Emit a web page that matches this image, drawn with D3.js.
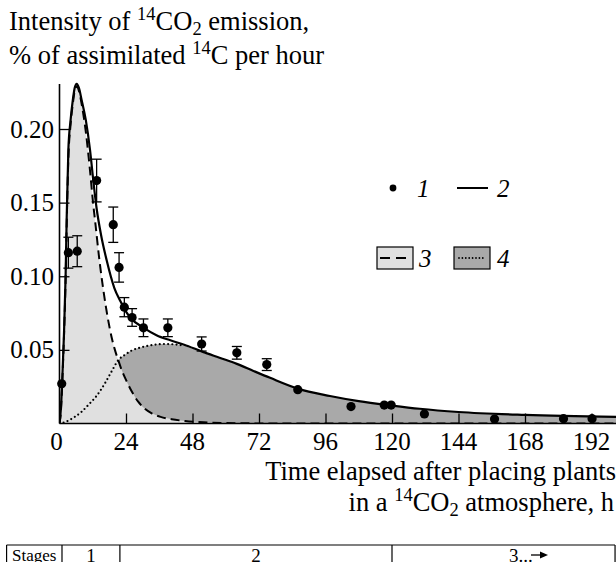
<!DOCTYPE html>
<html><head><meta charset="utf-8">
<script src="https://cdn.jsdelivr.net/npm/d3@7"></script>
<style>body{margin:0;background:#fff;} svg{display:block;}</style>
</head><body>
<svg id="c" width="616" height="562"></svg>
<script>
// ---- data ----
// measured points: [time h, value, error half-width]
const pointTimes  = [0.8, 3.2, 6.4, 13.4, 19.4, 21.5, 23.4, 26.2, 30.3, 39.1, 51.3, 64.0, 74.8, 86.0, 105.2, 117.2, 119.7, 131.7, 157.0, 181.9, 192.2];
const pointValues = [0.027, 0.116, 0.117, 0.165, 0.135, 0.106, 0.079, 0.072, 0.065, 0.065, 0.054, 0.048, 0.040, 0.023, 0.0115, 0.0125, 0.0125, 0.0065, 0.003, 0.0033, 0.0033];
const pointErrors = [0, 0.0105, 0.0105, 0.0145, 0.012, 0.010, 0.0065, 0.006, 0.006, 0.006, 0.0048, 0.0043, 0.004, 0, 0, 0, 0, 0, 0, 0, 0];

// curve 2 (total, solid)
const totalT = [0, 0.5, 1.0, 1.6, 2.2, 2.6, 3.2, 4.0, 4.8, 5.5, 6.2, 7.0, 8.0, 9.5, 11.0, 12.2, 13.4, 15.0, 17.0, 19.8, 22.0, 24.0, 26.0, 30.0, 35.0, 40.0, 45.0, 51.5, 58.0, 64.0, 70.0, 76.0, 86.0, 97.6, 108.0, 120.0, 130.0, 144.0, 168.0, 201.0];
const totalV = [0, 0.010, 0.030, 0.060, 0.100, 0.140, 0.186, 0.206, 0.2196, 0.228, 0.2307, 0.228, 0.2196, 0.206, 0.186, 0.165, 0.146, 0.128, 0.111, 0.092, 0.083, 0.076, 0.071, 0.0655, 0.060, 0.0565, 0.0535, 0.0488, 0.0445, 0.0405, 0.0357, 0.031, 0.0237, 0.0187, 0.0152, 0.0122, 0.0100, 0.0078, 0.0058, 0.0045];

// curve 3 (fast component, dashed, light fill)
const fastT = [0, 0.5, 1.0, 1.6, 2.2, 2.6, 3.2, 4.0, 4.8, 5.5, 6.3, 7.0, 8.0, 9.5, 11.0, 12.0, 13.0, 14.4, 15.8, 17.3, 19.0, 20.0, 21.2, 22.5, 24.3, 26.3, 28.4, 30.8, 33.3, 36.5, 40.5, 45.3, 52.0, 60.0, 80.0, 201.0];
const fastV = [0, 0.008, 0.028, 0.058, 0.097, 0.135, 0.180, 0.203, 0.217, 0.226, 0.229, 0.226, 0.217, 0.198, 0.172, 0.152, 0.135, 0.111, 0.091, 0.073, 0.057, 0.050, 0.043, 0.036, 0.0284, 0.021, 0.0148, 0.0100, 0.0069, 0.0045, 0.0029, 0.0017, 0.0008, 0.0003, 0, 0];

// curve 4 (slow component, dotted, dark fill)
const slowT = [0, 2, 5.6, 8, 10.4, 13.5, 16.4, 19, 21.2, 23.5, 26, 29, 32, 35, 38, 41, 44.1, 47, 51.5, 58, 64, 70, 76, 86, 97.6, 108, 120, 130, 144, 168, 201];
const slowV = [0, 0.001, 0.0046, 0.008, 0.0126, 0.019, 0.0273, 0.036, 0.043, 0.0465, 0.0495, 0.0515, 0.0528, 0.0537, 0.054, 0.0538, 0.0532, 0.0515, 0.0483, 0.0442, 0.0403, 0.0356, 0.031, 0.0236, 0.0186, 0.0151, 0.0121, 0.0099, 0.0077, 0.0057, 0.0045];

const xTicks = [24, 48, 72, 96, 120, 144, 168, 192];
const xTickLabels = ["0", "24", "48", "72", "96", "120", "144", "168", "192"];
const yTicks = [0.05, 0.10, 0.15, 0.20];
const stageLabels = ["Stages", "1", "2", "3..."];
const stageBounds = [-19.1, 0.9, 21.8, 120, 200.5]; // in hours (table column edges)

// ---- drawing ----
const svg = d3.select("#c");
const FONT = "'Liberation Serif','Times New Roman',serif";
const TF = 26.5, SF = 18.5, LF = 25;
const x = d3.scaleLinear().domain([0, 192]).range([59.5, 591.5]);
const y = d3.scaleLinear().domain([0, 0.2]).range([423.5, 129]);
const X0 = x(0), XR = 616, Y0 = y(0);

const zip = (a, b) => a.map((t, i) => [t, b[i]]);
const total = zip(totalT, totalV), fast = zip(fastT, fastV), slow = zip(slowT, slowV);

const area = d3.area().x(d => x(d[0])).y0(Y0).y1(d => y(d[1])).curve(d3.curveMonotoneX);
const line = d3.line().x(d => x(d[0])).y(d => y(d[1])).curve(d3.curveMonotoneX);

svg.append("defs").append("clipPath").attr("id", "clip")
  .append("rect").attr("x", X0).attr("y", 60).attr("width", XR - X0).attr("height", Y0 - 60);

const g = svg.append("g").attr("clip-path", "url(#clip)");
g.append("path").datum(slow).attr("d", area).attr("fill", "#a9a9a9");
g.append("path").datum(fast).attr("d", area).attr("fill", "#e0e0e0");
g.append("path").datum(slow.filter(d => d[0] <= 46)).attr("d", line).attr("fill", "none")
  .attr("stroke", "#000").attr("stroke-width", 2.2).attr("stroke-dasharray", "0,4.2").attr("stroke-linecap", "round");
g.append("path").datum(fast).attr("d", line).attr("fill", "none")
  .attr("stroke", "#000").attr("stroke-width", 2).attr("stroke-dasharray", "9,5");
g.append("path").datum(total).attr("d", line).attr("fill", "none")
  .attr("stroke", "#000").attr("stroke-width", 2.2);

// axes
const xAxis = d3.axisTop(x).tickValues(xTicks).tickSize(10).tickFormat("");
const ax = svg.append("g").attr("transform", `translate(0,${Y0})`).call(xAxis);
ax.select(".domain").remove();
ax.selectAll("line").attr("stroke", "#000").attr("stroke-width", 1.3);
svg.append("line").attr("x1", X0).attr("x2", XR).attr("y1", Y0).attr("y2", Y0).attr("stroke", "#000").attr("stroke-width", 1.6);

const yAxis = d3.axisRight(y).tickValues(yTicks).tickSize(10).tickFormat("");
const ay = svg.append("g").attr("transform", `translate(${X0},0)`).call(yAxis);
ay.select(".domain").remove();
ay.selectAll("line").attr("stroke", "#000").attr("stroke-width", 1.3);
svg.append("line").attr("x1", X0).attr("x2", X0).attr("y1", 84).attr("y2", Y0).attr("stroke", "#000").attr("stroke-width", 1.6);

// tick labels
svg.append("g").selectAll("text").data([0, ...xTicks]).join("text")
  .attr("x", (d, i) => i === 0 ? x(d) - 3 : x(d)).attr("y", 450).attr("text-anchor", "middle")
  .attr("font-family", FONT).attr("font-size", LF).text((d, i) => xTickLabels[i]);
svg.append("g").selectAll("text").data(yTicks).join("text")
  .attr("x", 54).attr("y", d => y(d) + 8.5).attr("text-anchor", "end")
  .attr("font-family", FONT).attr("font-size", LF).text(d => d3.format(".2f")(d));

// error bars
const eb = svg.append("g").attr("stroke", "#000").attr("stroke-width", 1.3);
pointTimes.forEach((t, i) => {
  const e = pointErrors[i]; if (!e) return;
  const cx = x(t), yt = y(pointValues[i] + e), yb = y(pointValues[i] - e);
  eb.append("line").attr("x1", cx).attr("x2", cx).attr("y1", yt).attr("y2", yb);
  eb.append("line").attr("x1", cx - 5).attr("x2", cx + 5).attr("y1", yt).attr("y2", yt);
  eb.append("line").attr("x1", cx - 5).attr("x2", cx + 5).attr("y1", yb).attr("y2", yb);
});
svg.append("g").selectAll("circle").data(pointTimes).join("circle")
  .attr("cx", d => x(d)).attr("cy", (d, i) => y(pointValues[i])).attr("r", 4.6).attr("fill", "#000");

// y title
const t1 = svg.append("text").attr("x", 9).attr("y", 30).attr("font-family", FONT).attr("font-size", TF);
t1.append("tspan").text("Intensity of ");
t1.append("tspan").attr("font-size", SF).attr("dy", -10).text("14");
t1.append("tspan").attr("dy", 10).text("CO");
t1.append("tspan").attr("font-size", SF).attr("dy", 5).text("2");
t1.append("tspan").attr("dy", -5).text(" emission,");
const t2 = svg.append("text").attr("x", 9).attr("y", 64).attr("font-family", FONT).attr("font-size", TF);
t2.append("tspan").text("% of assimilated ");
t2.append("tspan").attr("font-size", SF).attr("dy", -10).text("14");
t2.append("tspan").attr("dy", 10).text("C per hour");

// x title
svg.append("text").attr("x", 616).attr("y", 480).attr("text-anchor", "end")
  .attr("font-family", FONT).attr("font-size", TF).text("Time elapsed after placing plants");
const t3 = svg.append("text").attr("x", 614).attr("y", 511).attr("text-anchor", "end").attr("font-family", FONT).attr("font-size", TF);
t3.append("tspan").text("in a ");
t3.append("tspan").attr("font-size", SF).attr("dy", -10).text("14");
t3.append("tspan").attr("dy", 10).text("CO");
t3.append("tspan").attr("font-size", SF).attr("dy", 5).text("2");
t3.append("tspan").attr("dy", -5).text(" atmosphere, h");

// legend
const lg = svg.append("g").attr("font-family", FONT).attr("font-size", LF).attr("font-style", "italic");
lg.append("circle").attr("cx", 393).attr("cy", 188).attr("r", 3.4).attr("fill", "#000");
lg.append("text").attr("x", 417).attr("y", 197).text("1");
lg.append("line").attr("x1", 457).attr("x2", 488).attr("y1", 188).attr("y2", 188).attr("stroke", "#000").attr("stroke-width", 2);
lg.append("text").attr("x", 497).attr("y", 197).text("2");
lg.append("rect").attr("x", 377).attr("y", 247).attr("width", 36).attr("height", 22).attr("fill", "#e0e0e0").attr("stroke", "#000").attr("stroke-width", 1.2);
lg.append("line").attr("x1", 380).attr("x2", 411).attr("y1", 258).attr("y2", 258).attr("stroke", "#000").attr("stroke-width", 2).attr("stroke-dasharray", "10,6");
lg.append("text").attr("x", 419).attr("y", 267).text("3");
lg.append("rect").attr("x", 454).attr("y", 247).attr("width", 36).attr("height", 22).attr("fill", "#a9a9a9").attr("stroke", "#000").attr("stroke-width", 1.2);
lg.append("line").attr("x1", 459).attr("x2", 486).attr("y1", 258).attr("y2", 258).attr("stroke", "#000").attr("stroke-width", 1.8).attr("stroke-dasharray", "0,3.4").attr("stroke-linecap", "round");
lg.append("text").attr("x", 497).attr("y", 267).text("4");

// stages table (only its top row edge is inside the picture)
const TT = 545;
const tb = svg.append("g").attr("stroke", "#000").attr("stroke-width", 1.2);
tb.append("line").attr("x1", x(stageBounds[0])).attr("x2", x(stageBounds[4])).attr("y1", TT).attr("y2", TT);
stageBounds.forEach(b => tb.append("line").attr("x1", x(b)).attr("x2", x(b)).attr("y1", TT).attr("y2", 562));
const st = svg.append("g").attr("font-family", FONT);
stageLabels.forEach((s, i) => {
  const cx = i === 3 ? x(stageBounds[3]) + 117 : (x(stageBounds[i]) + x(stageBounds[i + 1])) / 2;
  st.append("text").attr("x", cx).attr("y", i === 0 ? 561 : 562).attr("text-anchor", i === 3 ? "start" : "middle")
    .attr("font-size", i === 0 ? 17 : 19).text(s);
});
const arX = x(stageBounds[3]) + 139;
svg.append("line").attr("x1", arX).attr("x2", arX + 12).attr("y1", 555).attr("y2", 555).attr("stroke", "#000").attr("stroke-width", 1.3);
svg.append("path").attr("d", `M${arX + 9},551.5 L${arX + 17},555 L${arX + 9},558.5 Z`).attr("fill", "#000");
</script>
</body></html>
